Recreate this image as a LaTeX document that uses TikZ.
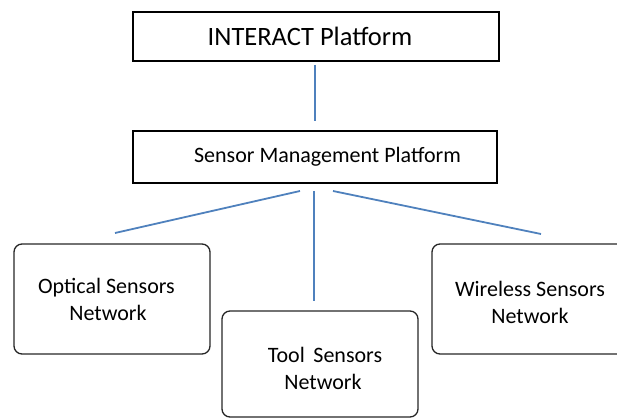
\documentclass[tikz,border=0pt]{standalone}
\usepackage{fontspec}
\setmainfont{Carlito}
\definecolor{linkblue}{HTML}{4F81BD}
\begin{document}
\begin{tikzpicture}[x=1pt,y=1pt,
  platform/.style={draw=black, line width=2.6pt, rectangle, inner sep=0pt},
  netbox/.style={draw=black!85, line width=1.3pt, rounded corners=8pt,
                 minimum width=196pt, inner sep=0pt, align=center,
                 font=\fontsize{22}{27}\selectfont},
  conn/.style={draw=linkblue, line width=1.8pt}]
  \useasboundingbox (0,0) rectangle (617,-419);

  % upper platforms
  \node[platform, minimum width=366pt, minimum height=49pt,
        font=\fontsize{26.5}{30}\selectfont]
        (top) at (316,-36.5) {INTERACT Platform\kern12pt};
  \node[platform, minimum width=364pt, minimum height=52pt,
        font=\fontsize{22}{26}\selectfont]
        (smp) at (315,-157) {\hspace{25pt}Sensor Management Platform};

  % sensor networks
  \node[netbox, minimum height=110pt] (opt) at (112,-299)
        {Optical Sensors\kern11pt\\Network\kern8pt};
  \node[netbox, minimum height=106pt] (tool) at (320,-364)
        {\\[-2pt]\hspace{10pt}Tool\, Sensors\\\hspace{6pt}Network};
  \node[netbox, minimum height=110pt] (wls) at (530,-299)
        {\\[-4pt]Wireless Sensors\\Network};

  % connector end points
  \coordinate (c1) at (315,-65);
  \coordinate (c2) at (315,-121);
  \coordinate (l1) at (300,-191);
  \coordinate (l2) at (115,-233);
  \coordinate (m1) at (314,-191);
  \coordinate (m2) at (314,-301);
  \coordinate (r1) at (333,-191);
  \coordinate (r2) at (541,-234);

  \draw[conn] (c1) -- (c2);
  \draw[conn] (l1) -- (l2);
  \draw[conn] (m1) -- (m2);
  \draw[conn] (r1) -- (r2);
\end{tikzpicture}
\end{document}
